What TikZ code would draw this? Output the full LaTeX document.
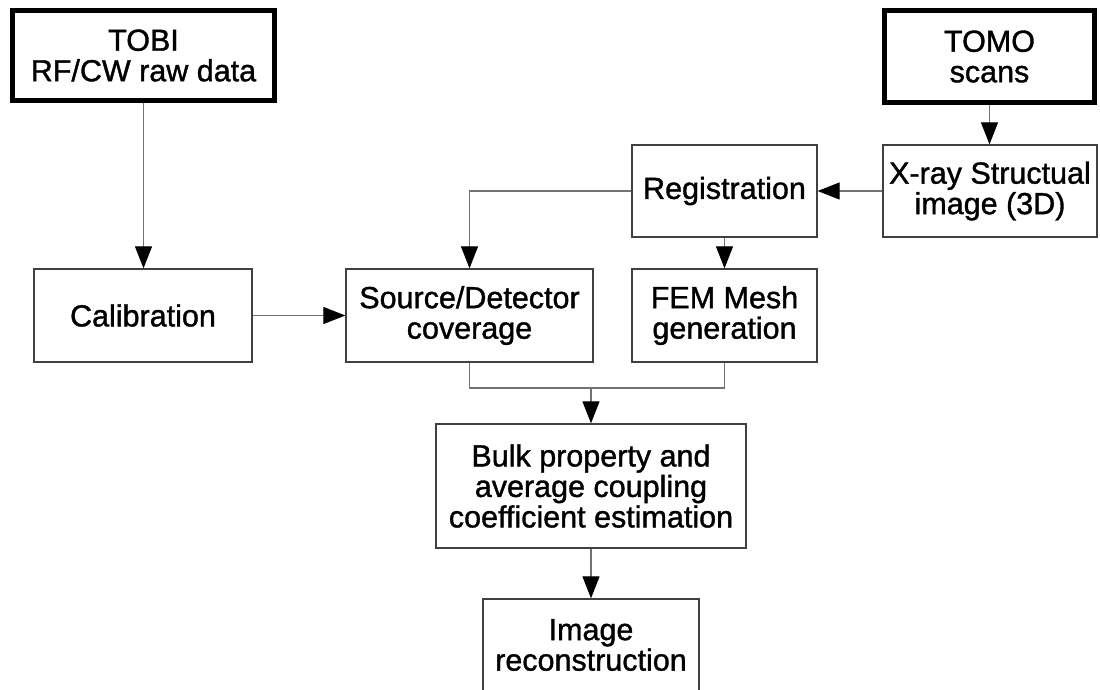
\documentclass[tikz,border=0pt]{standalone}
\usepackage{fontspec}
\setmainfont{Liberation Sans}[RawFeature={embolden=1.2}]
\usetikzlibrary{arrows.meta}
\begin{document}
\begin{tikzpicture}[x=1pt,y=-1pt,
  box/.style={draw=black!75,line width=1.3pt,inner sep=0pt,align=center,
    font=\fontsize{30.5}{30.5}\selectfont},
  thickbox/.style={box,draw=black,line width=5pt},
  conn/.style={draw=black!55,line width=1.1pt},
  arr/.style={conn,-{Triangle[length=22pt,width=17pt,color=black]}}]
\clip (0,0) rectangle (1100,690);
\fill[white] (0,0) rectangle (1100,690);
\node[thickbox,minimum width=262pt,minimum height=90pt] (tobi) at (143.5,55.5) {TOBI\\RF/CW raw data};
\node[thickbox,minimum width=210pt,minimum height=92pt] (tomo) at (989.5,56.5) {TOMO\\scans};
\node[box,minimum width=214pt,minimum height=92pt] (xray) at (990,191) {X-ray Structual\\image (3D)};
\node[box,minimum width=185pt,minimum height=92pt] (reg) at (724.5,191) {Registration};
\node[box,minimum width=218pt,minimum height=93pt] (calib) at (143,315.5) {Calibration};
\node[box,minimum width=247pt,minimum height=93pt] (src) at (469.5,315.5) {Source/Detector\\coverage};
\node[box,minimum width=185pt,minimum height=93pt] (fem) at (724.5,315.5) {FEM Mesh\\generation};
\node[box,minimum width=310pt,minimum height=124pt] (bulk) at (591,486) {Bulk property and\\average coupling\\coefficient estimation};
\node[box,minimum width=216pt,minimum height=92pt] (img) at (591,645) {Image\\reconstruction};
\coordinate (m) at (591,388);
\draw[arr] (tobi.south) -- (tobi.south |- calib.north);
\draw[arr] (tomo.south) -- (tomo.south |- xray.north);
\draw[arr] (xray.west) -- (reg.east);
\draw[arr] (reg.west) -| (src.north);
\draw[arr] (reg.south) -- (fem.north);
\draw[arr] (calib.east) -- (src.west);
\draw[conn] (src.south) |- (m) -| (fem.south);
\draw[arr] (m) -- (bulk.north);
\draw[arr] (bulk.south) -- (img.north);
\end{tikzpicture}
\end{document}
